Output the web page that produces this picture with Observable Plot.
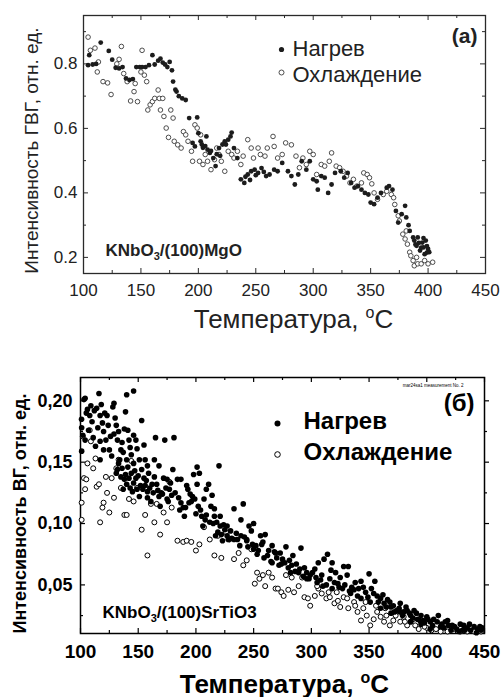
<!DOCTYPE html>
<html><head><meta charset="utf-8">
<script src="https://cdn.jsdelivr.net/npm/d3@7"></script>
<script src="https://cdn.jsdelivr.net/npm/@observablehq/plot@0.6"></script>
<style>
body{margin:0;background:#fff;}
#wrap{position:relative;width:502px;height:697px;overflow:hidden;background:#fff}
#wrap svg{position:absolute;left:0}
</style>
</head><body><div id="wrap"></div>
<script>
// ---------- Panel (a): KNbO3/(100)MgO ----------
const aHeatT = [105,104,108,111,115,122,125,128,131,134,137,140,143,146,149,151,154,157,160,162,165,167,169,171,173,175,177,178,180,181,183,186,189,192,199,195,197,200,202,204,207,208,210,213,215,218,221,223,226,229,231,234,237,240,243,246,249,252,255,259,262,266,269,273,278,281,284,287,290,294,297,300,303,304,307,310,313,316,319,324,327,330,333,336,339,342,345,348,350,353,356,359,364,366,369,372,374,377,380,381,384,387,388,390,391,393,395,396,398,400,401,397,203,211,216,206,219,224,228,241,245,250,257,383,389,392,394,399,399,396];
const aHeatI = [0.827,0.796,0.798,0.80,0.866,0.84,0.813,0.788,0.786,0.79,0.755,0.75,0.753,0.79,0.79,0.79,0.79,0.796,0.827,0.798,0.81,0.816,0.804,0.798,0.79,0.806,0.78,0.745,0.72,0.714,0.70,0.693,0.688,0.632,0.634,0.555,0.544,0.585,0.56,0.54,0.575,0.534,0.524,0.508,0.483,0.539,0.55,0.56,0.565,0.587,0.539,0.508,0.442,0.431,0.457,0.467,0.472,0.462,0.477,0.452,0.457,0.472,0.467,0.493,0.467,0.452,0.426,0.457,0.498,0.472,0.498,0.442,0.436,0.41,0.452,0.447,0.40,0.426,0.462,0.467,0.447,0.462,0.431,0.416,0.421,0.41,0.40,0.395,0.37,0.365,0.385,0.40,0.416,0.421,0.41,0.344,0.308,0.334,0.36,0.324,0.282,0.262,0.252,0.236,0.262,0.221,0.246,0.231,0.252,0.226,0.216,0.21,0.55,0.53,0.52,0.545,0.515,0.55,0.575,0.45,0.44,0.455,0.465,0.30,0.24,0.245,0.23,0.235,0.215,0.26];
const aCoolT = [104,106,110,113,112,117,121,124,133,129,131,135,138,141,144,147,145,151,150,153,155,156,158,160,162,165,166,169,167,170,172,174,176,178,179,182,185,187,189,191,194,195,197,199,202,201,204,206,208,211,214,216,218,220,223,226,229,231,234,237,239,243,246,248,252,254,258,260,265,266,269,273,276,281,285,288,291,294,297,300,303,307,310,314,316,320,323,326,329,332,335,338,342,344,347,349,351,353,356,361,364,368,370,371,374,375,378,380,382,384,385,387,388,391,394,397,400,404,381,390];
const aCoolI = [0.883,0.842,0.849,0.806,0.775,0.745,0.741,0.705,0.854,0.80,0.814,0.77,0.745,0.685,0.714,0.683,0.739,0.842,0.775,0.765,0.745,0.657,0.673,0.683,0.693,0.719,0.693,0.693,0.657,0.637,0.601,0.572,0.657,0.632,0.56,0.549,0.539,0.59,0.58,0.56,0.529,0.498,0.611,0.601,0.58,0.498,0.488,0.519,0.498,0.472,0.503,0.539,0.519,0.498,0.467,0.529,0.519,0.508,0.529,0.488,0.514,0.565,0.539,0.508,0.539,0.519,0.514,0.539,0.575,0.544,0.508,0.519,0.555,0.549,0.514,0.478,0.508,0.488,0.529,0.519,0.457,0.488,0.483,0.498,0.524,0.483,0.478,0.467,0.452,0.431,0.442,0.421,0.431,0.462,0.457,0.447,0.428,0.40,0.38,0.395,0.405,0.395,0.385,0.364,0.329,0.313,0.272,0.257,0.241,0.216,0.205,0.19,0.174,0.18,0.18,0.19,0.18,0.185,0.282,0.20];
const aXTicks = [100,150,200,250,300,350,400,450];
const aXMinor = [125,175,225,275,325,375,425];
const aYTicks = [0.2,0.4,0.6,0.8];
const aYMinor = [0.3,0.5,0.7,0.9];
const aYDomain = [0.15,0.95];

// ---------- Panel (б): KNbO3/(100)SrTiO3 ----------
const bHeatT = [100.9,101,101,103,104,106,108,110,112,114,116,117,119,120,122,125,127,128,129,123,113,117,131,132,134,136,138,139,140,142,144,146,146,148,149,151,153,155,156,158,159,132,135,138,140,143,145,148,149,151,153,155,156,158,158,161,162,164,165,166,168,169,172,173,175,177,179,180,181,184,186,187,190,191,193,195,196,198,199,201,202,203,205,206,207,209,211,213,214,216,218,219,220,221,223,225,227,230,233,236,239,241,244,246,248,250,252,254,257,260,263,266,268,270,273,275,278,281,284,287,291,294,296,299,303,306,308,311,314,316,318,321,323,325,328,331,332,335,338,341,343,347,350,352,355,357,360,363,366,369,371,374,377,380,383,386,389,392,395,397,400,403,406,410,413,416,419,422,426,429,432,435,438,441,444,447,117,120,104,107,129,140,146,164,168,170,175,178,187,192,201,209,216,221,227,233,239,244,250,258,266,274,282,289,296,304,310,318,327,334,343,351,360,369,377,386,395,403,412,421,431,448,
  131,133,136,137,139,141,142,144,146,147,150,152,154,157,160,163,167,171,174,176,182,185,189,194,197,200,204,208,212,215,217,222,224,228,231,235,238,242,245,249,253,256,259,262,265,269,272,277,280,283,286,290,293,298,301,305,309,313,317,320,324,329,333,337,340,345,349,354,358,362,365,368,372,376,379,382,385,388,391,394,398,401,405,409,415,418,424,428,433,437,443,446,102,105,109,111,115,118,121,124,126,130,133,135,137,141,143];
const bHeatI = [0.185,0.178,0.159,0.201,0.202,0.193,0.188,0.183,0.192,0.194,0.206,0.188,0.182,0.175,0.168,0.16,0.155,0.195,0.198,0.188,0.163,0.167,0.18,0.168,0.152,0.166,0.177,0.191,0.205,0.168,0.156,0.208,0.172,0.168,0.161,0.152,0.184,0.164,0.152,0.147,0.141,0.144,0.138,0.136,0.132,0.129,0.126,0.137,0.128,0.122,0.144,0.137,0.131,0.126,0.121,0.118,0.132,0.138,0.17,0.132,0.122,0.114,0.137,0.168,0.136,0.128,0.123,0.144,0.17,0.136,0.111,0.117,0.106,0.113,0.128,0.124,0.118,0.14,0.12,0.146,0.114,0.141,0.106,0.098,0.12,0.107,0.132,0.114,0.123,0.112,0.101,0.093,0.147,0.098,0.086,0.095,0.09,0.094,0.112,0.087,0.09,0.116,0.086,0.098,0.094,0.1,0.082,0.078,0.083,0.091,0.078,0.082,0.077,0.072,0.076,0.071,0.081,0.07,0.074,0.067,0.08,0.064,0.06,0.058,0.063,0.068,0.054,0.071,0.075,0.055,0.068,0.06,0.051,0.056,0.065,0.058,0.065,0.048,0.052,0.047,0.053,0.044,0.059,0.047,0.053,0.041,0.039,0.035,0.038,0.032,0.033,0.029,0.035,0.028,0.029,0.025,0.029,0.022,0.025,0.021,0.024,0.02,0.022,0.025,0.018,0.02,0.017,0.017,0.014,0.018,0.017,0.015,0.013,0.016,0.014,0.013,0.152,0.16,0.168,0.176,0.173,0.152,0.149,0.152,0.147,0.125,0.12,0.133,0.136,0.131,0.132,0.128,0.106,0.106,0.098,0.087,0.103,0.087,0.079,0.085,0.068,0.067,0.06,0.06,0.055,0.056,0.049,0.047,0.047,0.043,0.039,0.036,0.031,0.027,0.028,0.02,0.018,0.014,0.016,0.013,0.013,0.015,
  0.141,0.149,0.145,0.128,0.14,0.146,0.137,0.141,0.133,0.143,0.139,0.131,0.128,0.135,0.129,0.125,0.127,0.124,0.129,0.118,0.125,0.121,0.113,0.117,0.122,0.108,0.111,0.103,0.101,0.1,0.09,0.091,0.099,0.087,0.088,0.092,0.082,0.089,0.081,0.083,0.075,0.09,0.072,0.074,0.069,0.076,0.066,0.068,0.064,0.066,0.061,0.063,0.057,0.055,0.06,0.052,0.058,0.05,0.062,0.052,0.048,0.05,0.045,0.046,0.041,0.048,0.04,0.043,0.036,0.042,0.032,0.036,0.028,0.031,0.025,0.032,0.027,0.023,0.027,0.021,0.019,0.022,0.017,0.02,0.015,0.021,0.016,0.012,0.013,0.018,0.011,0.016,0.172,0.19,0.196,0.17,0.178,0.197,0.19,0.18,0.171,0.186,0.175,0.16,0.158,0.176,0.162];
const bCoolT = [101,101,102,103,104,105,106,108,109,111,113,114,116,117,119,120,122,123,125,127,129,131,133,135,138,140,142,144,146,149,153,156,158,161,164,166,169,172,175,177,179,184,189,192,196,200,203,207,212,216,219,222,226,229,233,237,241,244,248,251,253,255,258,260,263,266,269,271,274,276,278,280,283,285,289,292,294,297,299,303,306,309,313,316,320,323,325,328,332,337,340,343,345,348,351,354,357,360,363,365,368,371,374,377,380,383,386,390,393,397,400,404,408,412,418,423,429,435,441,447,305,315,322,331,338,347,356,364,373,381,388,398];
const bCoolI = [0.117,0.103,0.171,0.137,0.128,0.136,0.149,0.176,0.167,0.145,0.153,0.13,0.132,0.101,0.113,0.117,0.138,0.125,0.109,0.137,0.121,0.145,0.152,0.129,0.107,0.107,0.12,0.151,0.118,0.129,0.095,0.107,0.074,0.116,0.101,0.116,0.091,0.109,0.101,0.134,0.113,0.086,0.085,0.086,0.085,0.078,0.083,0.097,0.087,0.074,0.09,0.072,0.093,0.087,0.071,0.076,0.066,0.07,0.079,0.051,0.06,0.055,0.058,0.049,0.06,0.056,0.047,0.047,0.044,0.041,0.058,0.046,0.056,0.044,0.049,0.056,0.04,0.039,0.033,0.041,0.047,0.043,0.039,0.04,0.035,0.037,0.032,0.04,0.031,0.036,0.028,0.021,0.031,0.025,0.017,0.022,0.028,0.024,0.02,0.025,0.017,0.021,0.028,0.02,0.024,0.017,0.02,0.017,0.014,0.018,0.015,0.013,0.014,0.012,0.012,0.014,0.012,0.012,0.012,0.012,0.049,0.044,0.044,0.039,0.033,0.036,0.033,0.031,0.025,0.02,0.022,0.016];
const bXTicks = [100,150,200,250,300,350,400,450];
const bXMinor = [125,175,225,275,325,375,425];
const bYTicks = [0.05,0.10,0.15,0.20];
const bYMinor = [0.025,0.075,0.125,0.175];
const bYDomain = [0.0104,0.219];

const xDomain = [100,450];
const FONT = "'Liberation Sans', Arial, Helvetica, sans-serif";

// ticks as tick marks shortened by insets (W, H = frame size in px)
function tickMarks(values, side, len, inward, W, H, color, sw) {
  const st = {stroke: color, strokeWidth: sw};
  if (side === "left")   return Plot.tickY(values, {...st, y: d => d, insetLeft: inward ? 0 : -len, insetRight: inward ? W - len : W});
  if (side === "right")  return Plot.tickY(values, {...st, y: d => d, insetLeft: inward ? W - len : W, insetRight: inward ? 0 : -len});
  if (side === "bottom") return Plot.tickX(values, {...st, x: d => d, insetTop: inward ? H - len : H, insetBottom: inward ? 0 : -len});
  return Plot.tickX(values, {...st, x: d => d, insetTop: inward ? 0 : -len, insetBottom: inward ? H - len : H});
}

// ----- Panel A -----
const colA = "#1c1c1c";
const AW = 502 - 83 - 17, AH = 340 - 15 - 67;
const tcA = "#2a2a2a";
const plotA = Plot.plot({
  width: 502, height: 340,
  marginTop: 15, marginRight: 17, marginBottom: 67, marginLeft: 83,
  x: {domain: xDomain},
  y: {domain: aYDomain},
  style: {fontFamily: FONT, color: "#222", background: "white"},
  marks: [
    Plot.frame({stroke: tcA, strokeWidth: 1.3}),
    tickMarks(aYTicks, "left", 5, true, AW, AH, tcA, 1),
    tickMarks(aYMinor, "left", 3, true, AW, AH, tcA, 1),
    tickMarks(aYTicks, "right", 5, true, AW, AH, tcA, 1),
    tickMarks(aYMinor, "right", 3, true, AW, AH, tcA, 1),
    tickMarks(aXTicks, "bottom", 5, true, AW, AH, tcA, 1),
    tickMarks(aXMinor, "bottom", 3, true, AW, AH, tcA, 1),
    tickMarks(aXTicks, "top", 5, true, AW, AH, tcA, 1),
    tickMarks(aXMinor, "top", 3, true, AW, AH, tcA, 1),
    Plot.axisX({ticks: aXTicks, tickSize: 0, tickPadding: 10, fontSize: 17, label: null, tickFormat: d => String(d)}),
    Plot.axisY({ticks: aYTicks, tickSize: 0, tickPadding: 6, fontSize: 17, label: null, tickFormat: d3.format(".1f")}),
    Plot.dot(d3.range(aCoolT.length), {x: i => aCoolT[i], y: i => aCoolI[i], r: 2.3, fill: "white", stroke: "#3a3a3a", strokeWidth: 0.9}),
    Plot.dot(d3.range(aHeatT.length), {x: i => aHeatT[i], y: i => aHeatI[i], r: 2.4, fill: colA, stroke: "none"}),
    // legend
    Plot.dot([0], {frameAnchor: "top-left", dx: 198, dy: 34, r: 2.6, fill: colA}),
    Plot.dot([0], {frameAnchor: "top-left", dx: 198, dy: 57, r: 2.5, fill: "white", stroke: "#3a3a3a", strokeWidth: 0.9}),
    Plot.text(["Нагрев"], {frameAnchor: "top-left", dx: 209, dy: 40, textAnchor: "start", lineAnchor: "bottom", fontSize: 22}),
    Plot.text(["Охлаждение"], {frameAnchor: "top-left", dx: 209, dy: 66, textAnchor: "start", lineAnchor: "bottom", fontSize: 22}),
    Plot.text(["(a)"], {frameAnchor: "top-right", dx: -8, dy: 27, textAnchor: "end", lineAnchor: "bottom", fontSize: 21, fontWeight: "bold"}),
    Plot.text(["KNbO3/(100)MgO"], {frameAnchor: "bottom-left", dx: 22, dy: -18, textAnchor: "start", lineAnchor: "bottom", fontSize: 17, fontWeight: "bold"}),
    Plot.text(["Температура, oC"], {frameAnchor: "bottom", dx: 9, dy: 54, textAnchor: "middle", lineAnchor: "bottom", fontSize: 26}),
    Plot.text(["Интенсивность ГВГ, отн. ед."], {frameAnchor: "left", dx: -52, dy: 6, rotate: -90, textAnchor: "middle", lineAnchor: "middle", fontSize: 19})
  ]
});

// ----- Panel B -----
const BW = 502 - 80 - 18, BH = 352 - 32 - 64;
const plotB = Plot.plot({
  width: 502, height: 352,
  marginTop: 32, marginRight: 18, marginBottom: 64, marginLeft: 80,
  x: {domain: xDomain},
  y: {domain: bYDomain},
  style: {fontFamily: FONT, color: "#000", background: "white"},
  marks: [
    Plot.frame({stroke: "#000", strokeWidth: 1.5}),
    tickMarks(bYTicks, "left", 5, true, BW, BH, "#000", 1.2),
    tickMarks(bYMinor, "left", 3, true, BW, BH, "#000", 1.2),
    tickMarks(bYTicks, "right", 5, false, BW, BH, "#000", 1.2),
    tickMarks(bYMinor, "right", 3, false, BW, BH, "#000", 1.2),
    tickMarks(bXTicks, "bottom", 5, true, BW, BH, "#000", 1.2),
    tickMarks(bXMinor, "bottom", 3, true, BW, BH, "#000", 1.2),
    tickMarks(bXTicks, "top", 5, true, BW, BH, "#000", 1.2),
    tickMarks(bXMinor, "top", 3, true, BW, BH, "#000", 1.2),
    Plot.axisX({ticks: bXTicks, tickSize: 0, tickPadding: 11, fontSize: 19, fontWeight: "bold", label: null, tickFormat: d => String(d)}),
    Plot.axisY({ticks: bYTicks, tickSize: 0, tickPadding: 8, fontSize: 18, fontWeight: "bold", label: null, tickFormat: d => d.toFixed(2).replace(".", ",")}),
    Plot.dot(d3.range(bCoolT.length), {x: i => bCoolT[i], y: i => bCoolI[i], r: 2.5, fill: "white", stroke: "#000", strokeWidth: 1}),
    Plot.dot(d3.range(bHeatT.length), {x: i => bHeatT[i], y: i => bHeatI[i], r: 2.8, fill: "#000", stroke: "none"}),
    // legend
    Plot.dot([0], {frameAnchor: "top-left", dx: 197, dy: 46, r: 3, fill: "#000"}),
    Plot.dot([0], {frameAnchor: "top-left", dx: 197, dy: 77, r: 2.8, fill: "white", stroke: "#000", strokeWidth: 1}),
    Plot.text(["Нагрев"], {frameAnchor: "top-left", dx: 223, dy: 51, textAnchor: "start", lineAnchor: "bottom", fontSize: 24, fontWeight: "bold"}),
    Plot.text(["Охлаждение"], {frameAnchor: "top-left", dx: 223, dy: 82, textAnchor: "start", lineAnchor: "bottom", fontSize: 24, fontWeight: "bold"}),
    Plot.text(["(б)"], {frameAnchor: "top-right", dx: -10, dy: 33, textAnchor: "end", lineAnchor: "bottom", fontSize: 24, fontWeight: "bold"}),
    Plot.text(["mar24sa1 measurement No. 2"], {frameAnchor: "top-right", dx: -21, dy: 9, textAnchor: "end", lineAnchor: "bottom", fontSize: 4.5}),
    Plot.text(["KNbO3/(100)SrTiO3"], {frameAnchor: "bottom-left", dx: 22, dy: -16, textAnchor: "start", lineAnchor: "bottom", fontSize: 17, fontWeight: "bold"}),
    Plot.text(["Температура, oC"], {frameAnchor: "bottom", dx: 2, dy: 59, textAnchor: "middle", lineAnchor: "bottom", fontSize: 26, fontWeight: "bold"}),
    Plot.text(["Интенсивность ВГ, отн. ед."], {frameAnchor: "left", dx: -60, dy: 8, rotate: -90, textAnchor: "middle", lineAnchor: "middle", fontSize: 18, fontWeight: "bold"})
  ]
});

// rich text: subscripts / superscripts
const NS = "http://www.w3.org/2000/svg";
function addSpan(t, txt, attrs) {
  const s = document.createElementNS(NS, "tspan");
  s.textContent = txt;
  for (const k in attrs) s.setAttribute(k, attrs[k]);
  t.appendChild(s);
}
function richify(svg) {
  svg.querySelectorAll("text").forEach(t => {
    const s = t.textContent;
    if (s.startsWith("KNbO3/")) {
      t.textContent = "";
      addSpan(t, "KNbO", {});
      addSpan(t, "3", {dy: "4", "font-size": "11"});
      addSpan(t, s.slice(5), {dy: "-4"});
    } else if (s === "Температура, oC") {
      t.textContent = "";
      addSpan(t, "Температура, ", {});
      addSpan(t, "o", {dy: "-10", "font-size": "16"});
      addSpan(t, "C", {dy: "10"});
    }
  });
}
richify(plotA); richify(plotB);

plotA.style.top = "0px";
plotB.style.top = "345px";
const wrap = document.getElementById("wrap");
wrap.appendChild(plotA);
wrap.appendChild(plotB);
</script>
</body></html>
